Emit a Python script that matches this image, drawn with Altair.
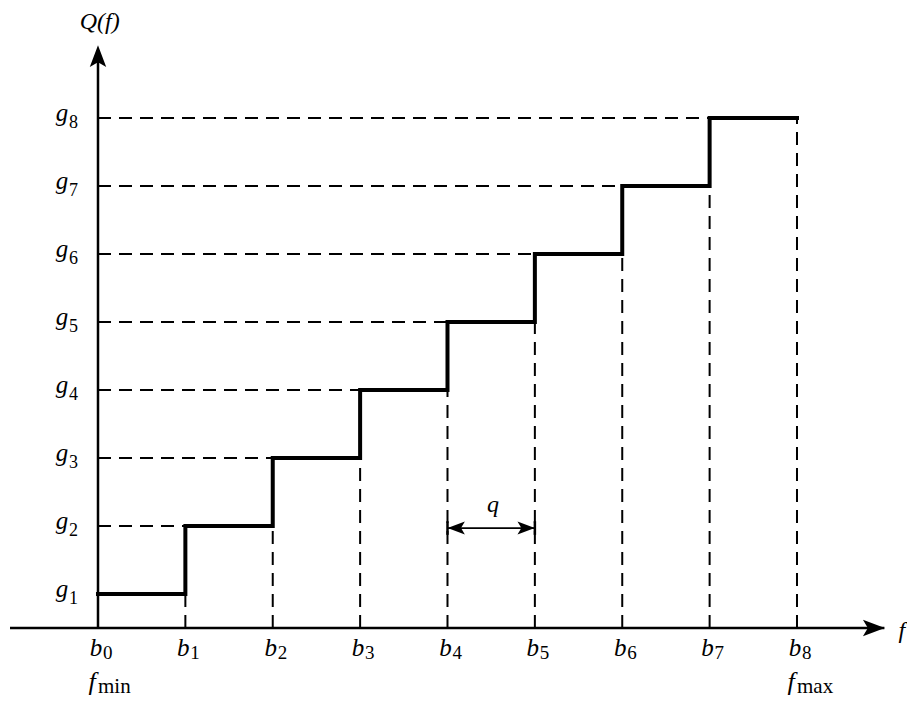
import altair as alt
import pandas as pd

# ---- data ----
b_positions = [0, 1, 2, 3, 4, 5, 6, 7, 8]
b_subs = ["0", "1", "2", "3", "4", "5", "6", "7", "8"]
g_levels = [0.5, 1.5, 2.5, 3.5, 4.5, 5.5, 6.5, 7.5]
g_subs = ["1", "2", "3", "4", "5", "6", "7", "8"]
f_positions = [0, 8]
f_subs = ["min", "max"]

SERIF = "'Liberation Serif', 'Times New Roman', Times, 'DejaVu Serif', serif"
XD = [-1.030, 9.259]
YD = [-1.015, 9.118]
W, H = 899, 689

xs = alt.Scale(domain=XD, nice=False, zero=False)
ys = alt.Scale(domain=YD, nice=False, zero=False)


def X(f="x"):
    return alt.X(f"{f}:Q", scale=xs, axis=None)


def Y(f="y"):
    return alt.Y(f"{f}:Q", scale=ys, axis=None)


# step function
step_df = pd.DataFrame({"x": b_positions, "y": g_levels + [g_levels[-1]]})
step = alt.Chart(step_df).mark_line(
    interpolate="step-after", color="black", strokeWidth=4, strokeCap="square"
).encode(x=X(), y=Y())

# dashed horizontal guides
hd = pd.DataFrame({"x": [0] * 7, "x2": b_positions[1:8], "y": g_levels[1:]})
hdash = alt.Chart(hd).mark_rule(color="black", strokeWidth=2, strokeDash=[13, 8]).encode(
    x=X(), x2="x2:Q", y=Y()
)
# dashed vertical guides
vd = pd.DataFrame({"x": b_positions[1:], "y": [0] * 8, "y2": g_levels})
vdash = alt.Chart(vd).mark_rule(color="black", strokeWidth=2, strokeDash=[13, 8]).encode(
    x=X(), y=Y(), y2="y2:Q"
)

# axes
axes_df = pd.DataFrame({"x": [-1.007, 0], "x2": [9.0, 0], "y": [0, 0], "y2": [0, 8.5]})
axes = alt.Chart(axes_df).mark_rule(color="black", strokeWidth=2.5).encode(
    x=X(), x2="x2:Q", y=Y(), y2="y2:Q"
)

ARROW = "M0,-1L0.75,1L0,0.55L-0.75,1Z"
big_arrows = pd.DataFrame({"x": [0, 8.88], "y": [8.41, 0], "a": [0, 90]})
barrows = alt.Chart(big_arrows).mark_point(
    shape=ARROW, filled=True, color="black", size=480, opacity=1, strokeWidth=0
).encode(x=X(), y=Y(), angle=alt.Angle("a:Q", scale=None))

# q double arrow
q_line_df = pd.DataFrame({"x": [4], "x2": [5], "y": [1.47]})
q_line = alt.Chart(q_line_df).mark_rule(color="black", strokeWidth=1.8).encode(
    x=X(), x2="x2:Q", y=Y()
)
q_bars_df = pd.DataFrame({"x": [4, 5], "y": [1.37, 1.37], "y2": [1.57, 1.57]})
q_bars = alt.Chart(q_bars_df).mark_rule(color="black", strokeWidth=2.5).encode(
    x=X(), y=Y(), y2="y2:Q"
)
q_arr_df = pd.DataFrame({"x": [4.1, 4.9], "y": [1.47, 1.47], "a": [270, 90]})
q_arr = alt.Chart(q_arr_df).mark_point(
    shape=ARROW, filled=True, color="black", size=300, opacity=1, strokeWidth=0
).encode(x=X(), y=Y(), angle=alt.Angle("a:Q", scale=None))

# labels
g_let = alt.Chart(pd.DataFrame({"x": [0] * 8, "y": g_levels, "t": ["g"] * 8})).mark_text(
    font=SERIF, fontStyle="italic", fontSize=25, align="center", baseline="alphabetic",
    dx=-36, dy=3, color="black"
).encode(x=X(), y=Y(), text="t:N")
g_sub = alt.Chart(pd.DataFrame({"x": [0] * 8, "y": g_levels, "t": g_subs})).mark_text(
    font=SERIF, fontSize=18, align="left", baseline="alphabetic",
    dx=-29, dy=10, color="black"
).encode(x=X(), y=Y(), text="t:N")

b_let = alt.Chart(pd.DataFrame({"x": b_positions, "y": [0] * 9, "t": ["b"] * 9})).mark_text(
    font=SERIF, fontStyle="italic", fontSize=25, align="center", baseline="alphabetic",
    dx=-2, dy=28, color="black"
).encode(x=X(), y=Y(), text="t:N")
b_sub = alt.Chart(pd.DataFrame({"x": b_positions, "y": [0] * 9, "t": b_subs})).mark_text(
    font=SERIF, fontSize=19, align="left", baseline="alphabetic",
    dx=5, dy=31, color="black"
).encode(x=X(), y=Y(), text="t:N")

f_let = alt.Chart(pd.DataFrame({"x": f_positions, "y": [0, 0], "t": ["f", "f"]})).mark_text(
    font=SERIF, fontStyle="italic", fontSize=26, align="center", baseline="alphabetic",
    dx=-6, dy=62, color="black"
).encode(x=X(), y=Y(), text="t:N")
f_sub = alt.Chart(pd.DataFrame({"x": f_positions, "y": [0, 0], "t": f_subs})).mark_text(
    font=SERIF, fontSize=21, align="left", baseline="alphabetic",
    dx=0, dy=65, color="black"
).encode(x=X(), y=Y(), text="t:N")

misc = alt.Chart(pd.DataFrame({
    "x": [0.02, 4.52, 9.2], "y": [8.91, 1.81, -0.05], "t": ["Q(f)", "q", "f"]
})).mark_text(
    font=SERIF, fontStyle="italic", fontSize=24, align="center", baseline="middle", color="black"
).encode(x=X(), y=Y(), text="t:N")

chart = alt.layer(
    hdash, vdash, axes, step, barrows, q_line, q_bars, q_arr,
    g_let, g_sub, b_let, b_sub, f_let, f_sub, misc
).properties(
    width=W, height=H, autosize=alt.AutoSizeParams(type="none"), padding=0
).configure_view(strokeWidth=0)

chart.save("out.html", embed_options={"renderer": "svg", "actions": False})
